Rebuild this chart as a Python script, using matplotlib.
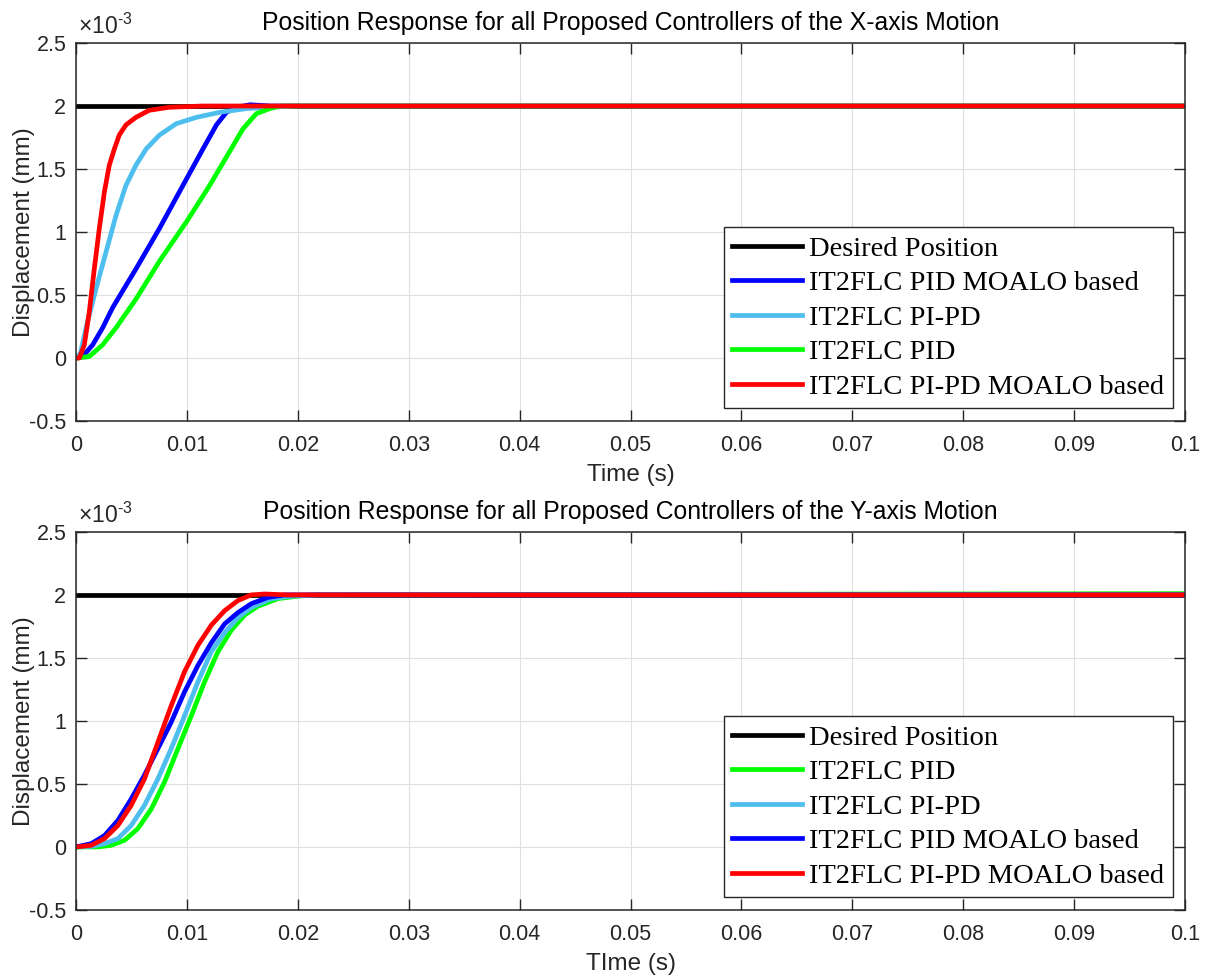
import matplotlib
matplotlib.use("Agg")
import matplotlib.pyplot as plt

# ---- data (displacement in units of 1e-3 mm, time in s) ----
desired_t = [0.0, 0.1]
desired_y = [2.0, 2.0]

# X-axis motion
x_red_t = [0, 0.0003, 0.00075, 0.0012, 0.00165, 0.0021, 0.00256, 0.003, 0.00346, 0.0039,
           0.0045, 0.0054, 0.0066, 0.0084, 0.0114, 0.1]
x_red_y = [0, 0.0, 0.105, 0.37, 0.71, 1.03, 1.32, 1.53, 1.66, 1.77,
           1.85, 1.91, 1.966, 1.99, 2.0, 2.0]

x_lblue_t = [0, 0.0004, 0.0009, 0.0018, 0.0027, 0.0036, 0.0045, 0.0054, 0.00633, 0.00753,
             0.00904, 0.01085, 0.01296, 0.0154, 0.0175, 0.02, 0.1]
x_lblue_y = [0, 0.04, 0.24, 0.55, 0.84, 1.13, 1.37, 1.53, 1.66, 1.77,
             1.86, 1.91, 1.95, 1.98, 1.99, 2.0, 2.0]

x_blue_t = [0, 0.0006, 0.0015, 0.0024, 0.0033, 0.00542, 0.00753, 0.00964, 0.01145, 0.01266,
            0.01356, 0.01447, 0.0157, 0.0175, 0.1]
x_blue_y = [0, 0.013, 0.105, 0.24, 0.40, 0.71, 1.03, 1.37, 1.66, 1.85,
            1.95, 1.99, 2.01, 2.0, 2.0]

x_green_t = [0, 0.0012, 0.0024, 0.0036, 0.00542, 0.00753, 0.00995, 0.01205, 0.01386, 0.01506,
             0.01627, 0.0175, 0.0184, 0.1]
x_green_y = [0, 0.013, 0.105, 0.24, 0.47, 0.77, 1.08, 1.37, 1.64, 1.82,
             1.94, 1.98, 2.0, 2.0]

# Y-axis motion
y_red_t = [0, 0.00136, 0.00256, 0.00377, 0.00497, 0.00617, 0.00738, 0.00858, 0.00978, 0.01099,
           0.0122, 0.0134, 0.0146, 0.0158, 0.017, 0.0191, 0.1]
y_red_y = [0, 0.013, 0.066, 0.17, 0.33, 0.54, 0.83, 1.12, 1.39, 1.60,
           1.76, 1.875, 1.955, 2.0, 2.007, 2.0, 2.0]

y_blue_t = [0, 0.00136, 0.00256, 0.00377, 0.00497, 0.00617, 0.00738, 0.00858, 0.00978, 0.01099,
            0.0122, 0.0134, 0.0146, 0.0158, 0.0173, 0.0188, 0.1]
y_blue_y = [0, 0.026, 0.09, 0.21, 0.38, 0.57, 0.78, 0.99, 1.23, 1.44,
            1.62, 1.77, 1.86, 1.93, 1.98, 2.0, 2.0]

y_lblue_t = [0, 0.0014, 0.00256, 0.00377, 0.00497, 0.00617, 0.00738, 0.00858, 0.00978, 0.01099,
             0.0122, 0.0134, 0.0146, 0.0158, 0.0176, 0.0194, 0.022, 0.1]
y_lblue_y = [0, 0.005, 0.026, 0.066, 0.17, 0.33, 0.54, 0.78, 1.04, 1.31,
             1.55, 1.70, 1.82, 1.90, 1.97, 1.99, 2.0, 2.0]

y_green_t = [0, 0.002, 0.00316, 0.00437, 0.00557, 0.00678, 0.00798, 0.00919, 0.01039, 0.01159,
             0.0128, 0.014, 0.0152, 0.0164, 0.0182, 0.02, 0.0212, 0.1]
y_green_y = [0, 0.0, 0.013, 0.053, 0.145, 0.30, 0.515, 0.78, 1.04, 1.31,
             1.55, 1.72, 1.84, 1.91, 1.97, 1.99, 2.0, 2.01]

x_ticks = [0, 0.01, 0.02, 0.03, 0.04, 0.05, 0.06, 0.07, 0.08, 0.09, 0.1]
x_tick_labels = ["0", "0.01", "0.02", "0.03", "0.04", "0.05", "0.06", "0.07", "0.08", "0.09", "0.1"]
y_ticks = [-0.5, 0, 0.5, 1, 1.5, 2, 2.5]
y_tick_labels = ["-0.5", "0", "0.5", "1", "1.5", "2", "2.5"]

BLACK = "#000000"
BLUE = "#0000ff"
LBLUE = "#4dbeee"
GREEN = "#00ff00"
RED = "#ff0000"

plt.rcParams["font.family"] = ["Liberation Sans", "DejaVu Sans"]
plt.rcParams["axes.unicode_minus"] = False
plt.rcParams["mathtext.fontset"] = "custom"
plt.rcParams["mathtext.rm"] = "Liberation Sans"
plt.rcParams["mathtext.it"] = "Liberation Sans"

fig = plt.figure(figsize=(12.05, 9.77), dpi=100)
ax_top = fig.add_axes([0.0631, 0.569, 0.9203, 0.387])
ax_bot = fig.add_axes([0.0631, 0.0686, 0.9203, 0.387])


def style_axes(ax, title, xlabel):
    ax.set_xlim(0, 0.1)
    ax.set_ylim(-0.5, 2.5)
    ax.set_xticks(x_ticks)
    ax.set_xticklabels(x_tick_labels)
    ax.set_yticks(y_ticks)
    ax.set_yticklabels(y_tick_labels)
    ax.grid(True, color="#e0e0e0", linewidth=0.8)
    ax.set_axisbelow(True)
    ax.tick_params(direction="in", length=8, width=1.0, top=True, right=True,
                   labelsize=15.5, colors="#262626")
    ax.tick_params(axis="x", pad=10)
    ax.tick_params(axis="y", pad=7)
    for sp in ax.spines.values():
        sp.set_color("#262626")
        sp.set_linewidth(1.1)
    ax.set_title(title, fontsize=17.8, pad=9)
    ax.set_xlabel(xlabel, fontsize=17.5, color="#262626", labelpad=6)
    ax.set_ylabel("Displacement (mm)", fontsize=17.5, color="#262626")
    ax.yaxis.set_label_coords(-0.037, 0.5)
    ax.text(0.002, 1.01, r"$\times10^{\text{-}3}$", transform=ax.transAxes,
            fontsize=16.5, color="#262626", ha="left", va="bottom")


lw = 3.4
ax_top.plot(desired_t, desired_y, color=BLACK, lw=lw, label="Desired Position")
ax_top.plot(x_blue_t, x_blue_y, color=BLUE, lw=lw, label="IT2FLC PID MOALO based")
ax_top.plot(x_lblue_t, x_lblue_y, color=LBLUE, lw=lw, label="IT2FLC PI-PD")
ax_top.plot(x_green_t, x_green_y, color=GREEN, lw=lw, label="IT2FLC PID")
ax_top.plot(x_red_t, x_red_y, color=RED, lw=lw, label="IT2FLC PI-PD MOALO based")
style_axes(ax_top, "Position Response for all Proposed Controllers of the X-axis Motion", "Time (s)")

ax_bot.plot(desired_t, desired_y, color=BLACK, lw=lw, label="Desired Position")
ax_bot.plot(y_green_t, y_green_y, color=GREEN, lw=lw, label="IT2FLC PID")
ax_bot.plot(y_lblue_t, y_lblue_y, color=LBLUE, lw=lw, label="IT2FLC PI-PD")
ax_bot.plot(y_blue_t, y_blue_y, color=BLUE, lw=lw, label="IT2FLC PID MOALO based")
ax_bot.plot(y_red_t, y_red_y, color=RED, lw=lw, label="IT2FLC PI-PD MOALO based")
style_axes(ax_bot, "Position Response for all Proposed Controllers of the Y-axis Motion", "TIme (s)")

for ax in (ax_top, ax_bot):
    leg = ax.legend(loc="lower right", bbox_to_anchor=(0.989, 0.034), borderaxespad=0,
                    prop={"family": "Liberation Serif", "size": 20.5}, fancybox=False,
                    framealpha=1, edgecolor="#262626", handlelength=2.45, handletextpad=0.25,
                    labelspacing=0.3, borderpad=0.3)
    leg.get_frame().set_linewidth(1.0)

fig.savefig("out.png", dpi=100, facecolor="white")
